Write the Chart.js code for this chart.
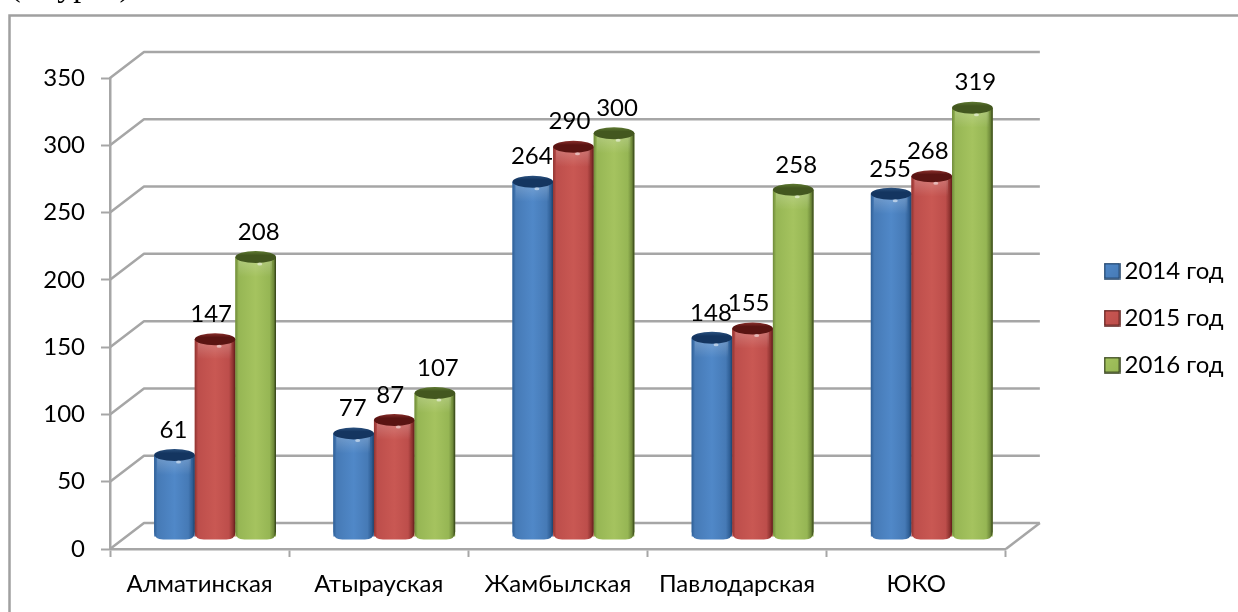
<!DOCTYPE html>
<html lang="ru">
<head>
<meta charset="utf-8">
<title>Диаграмма по областям</title>
<script src="https://cdn.jsdelivr.net/npm/chart.js@4"></script>
<style>
  html, body { margin: 0; padding: 0; background: #fff; overflow: hidden; }
  canvas { display: block; }
</style>
</head>
<body>
<canvas id="chart" width="1238" height="612"></canvas>
<script>
// Values per region and year
const categories = ['Алматинская', 'Атырауская', 'Жамбылская', 'Павлодарская', 'ЮКО'];
const series2014 = [61, 77, 264, 148, 255];
const series2015 = [147, 87, 290, 155, 268];
const series2016 = [208, 107, 300, 258, 319];
const yearLabels = ['2014 год', '2015 год', '2016 год'];
const captionText = '(в турах)';

// Cylinder shading per series
const palettes = [
  { base: '#467ab6', light: '#5088c8', left: '#2f5f96', right: '#1d4068', cap: '#143560', edge: '#2b5280' },
  { base: '#bd4e4b', light: '#c95853', left: '#8f3330', right: '#5e1b19', cap: '#5a1412', edge: '#8a2f2c' },
  { base: '#96b654', light: '#a5c35f', left: '#6f8a3a', right: '#2f3d15', cap: '#43571f', edge: '#5f7a32' }
];

const FONT = 'Lato, "Open Sans", sans-serif';
const GREY = '#a6a6a6';
const DEPTH_X = 34, DEPTH_Y = 26;        // offset from the front plane to the back wall
const BAR_DX = 15.5, BAR_DY = -12;       // bars stand mid-way along the floor
const LABEL_NUDGE = [-1, -4, 3];

function drawWalls(chart) {
  const { ctx, chartArea: a, scales: { y } } = chart;
  ctx.save();
  ctx.strokeStyle = GREY;
  ctx.lineWidth = 2.5;
  ctx.lineJoin = 'round';
  y.ticks.forEach(t => {
    const py = y.getPixelForValue(t.value);
    ctx.beginPath();
    ctx.moveTo(a.left, py);
    ctx.lineTo(a.left + DEPTH_X, py - DEPTH_Y);
    ctx.lineTo(a.right + DEPTH_X, py - DEPTH_Y);
    ctx.stroke();
  });
  ctx.beginPath();
  ctx.moveTo(a.right, a.bottom);
  ctx.lineTo(a.right + DEPTH_X, a.bottom - DEPTH_Y);
  ctx.stroke();
  ctx.restore();
}

function cylinderPath(ctx, x0, x1, top, base) {
  ctx.beginPath();
  ctx.moveTo(x0, top);
  ctx.lineTo(x0, base - 5);
  ctx.quadraticCurveTo(x0, base + 3, x0 + 9, base + 3);
  ctx.lineTo(x1 - 9, base + 3);
  ctx.quadraticCurveTo(x1, base + 3, x1, base - 5);
  ctx.lineTo(x1, top);
  ctx.closePath();
}

function shadeBar(ctx, el, pal) {
  const x0 = el.x - el.width / 2, x1 = el.x + el.width / 2;
  const top = el.y, base = el.base, w = el.width;

  const body = ctx.createLinearGradient(x0, 0, x1, 0);
  body.addColorStop(0, pal.left);
  body.addColorStop(0.08, pal.base);
  body.addColorStop(0.5, pal.light);
  body.addColorStop(0.84, pal.base);
  body.addColorStop(0.94, pal.left);
  body.addColorStop(1, pal.right);
  cylinderPath(ctx, x0, x1, top, base);
  ctx.fillStyle = body;
  ctx.fill();

  // glossy band just under the rim
  ctx.save();
  cylinderPath(ctx, x0, x1, top, base);
  ctx.clip();
  const gloss = ctx.createLinearGradient(0, top + 4, 0, top + 20);
  gloss.addColorStop(0, 'rgba(255,255,255,0.2)');
  gloss.addColorStop(1, 'rgba(255,255,255,0)');
  ctx.fillStyle = gloss;
  ctx.fillRect(x0 + 3, top, w - 7, 22);
  ctx.restore();

  // top of the cylinder
  const cap = ctx.createLinearGradient(0, top - 6, 0, top + 6);
  cap.addColorStop(0, pal.edge);
  cap.addColorStop(0.35, pal.cap);
  cap.addColorStop(1, pal.cap);
  ctx.beginPath();
  ctx.ellipse(el.x, top, w / 2, 6, 0, 0, Math.PI * 2);
  ctx.fillStyle = cap;
  ctx.fill();

  // small specular spot on the rim
  ctx.beginPath();
  ctx.ellipse(el.x + w * 0.1, top + 7, 2.5, 1.5, 0, 0, Math.PI * 2);
  ctx.fillStyle = 'rgba(255,255,255,0.5)';
  ctx.fill();
}

const cylinders = {
  id: 'cylinders',
  beforeDatasetsDraw(chart) {
    const { ctx } = chart;
    drawWalls(chart);
    ctx.save();
    ctx.translate(BAR_DX, BAR_DY);
    chart.data.datasets.forEach((ds, i) => {
      chart.getDatasetMeta(i).controller.draw();
    });
    // series are painted left to right so later bars overlap earlier ones
    const order = [];
    chart.data.datasets.forEach((ds, i) => {
      chart.getDatasetMeta(i).data.forEach((el, j) => order.push({ el, i, j }));
    });
    order.sort((a, b) => a.j - b.j || a.i - b.i);
    order.forEach(o => shadeBar(ctx, o.el, palettes[o.i]));

    // value labels above each cylinder
    ctx.fillStyle = '#000';
    ctx.font = '24px ' + FONT;
    ctx.textAlign = 'center';
    ctx.textBaseline = 'middle';
    order.forEach(o => {
      const v = chart.data.datasets[o.i].data[o.j];
      ctx.fillText(String(v), o.el.x + LABEL_NUDGE[o.i], o.el.y - 25);
    });
    ctx.restore();
    return false;
  }
};

const frame = {
  id: 'frame',
  beforeDraw(chart) {
    const { ctx } = chart;
    ctx.save();
    ctx.strokeStyle = '#a0a0a0';
    ctx.lineWidth = 2.5;
    ctx.beginPath();
    ctx.moveTo(9.5, chart.height);
    ctx.lineTo(9.5, 15.5);
    ctx.lineTo(chart.width, 15.5);
    ctx.stroke();
    ctx.fillStyle = '#000';
    ctx.font = '32px "Liberation Serif", serif';
    ctx.textAlign = 'left';
    ctx.textBaseline = 'alphabetic';
    ctx.fillText(captionText, 10, -4);
    ctx.restore();
  }
};

// Legend sits apart from the plot, a little above the vertical centre
const legendPlacement = {
  id: 'legendPlacement',
  afterLayout(chart) {
    const l = chart.legend;
    const w = l.right - l.left, pad = l.options.labels.padding;
    l.left = 1111.5 - pad;
    l.right = l.left + w;
    l.top -= 27;
    l.bottom -= 27;
  }
};

// Square legend marker with a dark outline and soft fill
function legendMarker(pal) {
  const c = document.createElement('canvas');
  c.width = 17;
  c.height = 17;
  const g = c.getContext('2d');
  const fill = g.createLinearGradient(1, 1, 16, 16);
  fill.addColorStop(0, pal.light);
  fill.addColorStop(1, pal.base);
  g.fillStyle = fill;
  g.fillRect(1, 1, 15, 15);
  g.strokeStyle = pal.right;
  g.lineWidth = 1.5;
  g.strokeRect(1, 1, 15, 15);
  return c;
}

new Chart(document.getElementById('chart'), {
  type: 'bar',
  data: {
    labels: categories,
    datasets: [
      { label: yearLabels[0], data: series2014, backgroundColor: palettes[0].base },
      { label: yearLabels[1], data: series2015, backgroundColor: palettes[1].base },
      { label: yearLabels[2], data: series2016, backgroundColor: palettes[2].base }
    ]
  },
  plugins: [frame, cylinders, legendPlacement],
  options: {
    responsive: false,
    animation: false,
    events: [],
    layout: { padding: { left: 0, top: 78, right: 87, bottom: 0 } },
    datasets: { bar: { barPercentage: 1, categoryPercentage: 0.68, borderWidth: 0 } },
    scales: {
      x: {
        afterFit(s) { s.height = 63; },
        border: { color: GREY, width: 2.5 },
        grid: { offset: true, drawOnChartArea: false, drawTicks: true, color: GREY, tickColor: GREY, tickLength: 8, tickWidth: 2 },
        ticks: { color: '#000', font: { family: FONT, size: 24 }, padding: 13, maxRotation: 0, autoSkip: false }
      },
      y: {
        min: 0,
        max: 350,
        afterFit(s) { s.width = 110; },
        border: { color: GREY, width: 2.5 },
        grid: { drawOnChartArea: false, drawTicks: true, color: GREY, tickColor: GREY, tickLength: 9, tickWidth: 2 },
        ticks: { stepSize: 50, color: '#000', font: { family: FONT, size: 24 }, padding: 16 }
      }
    },
    plugins: {
      tooltip: { enabled: false },
      title: { display: false },
      legend: {
        position: 'right',
        labels: {
          usePointStyle: true,
          boxWidth: 1,
          boxHeight: 15,
          padding: 23,
          color: '#000',
          font: { family: FONT, size: 24 },
          generateLabels(chart) {
            return chart.data.datasets.map((ds, i) => ({
              text: ds.label,
              pointStyle: legendMarker(palettes[i]),
              fontColor: '#000',
              datasetIndex: i
            }));
          }
        }
      }
    }
  }
});
</script>
</body>
</html>
